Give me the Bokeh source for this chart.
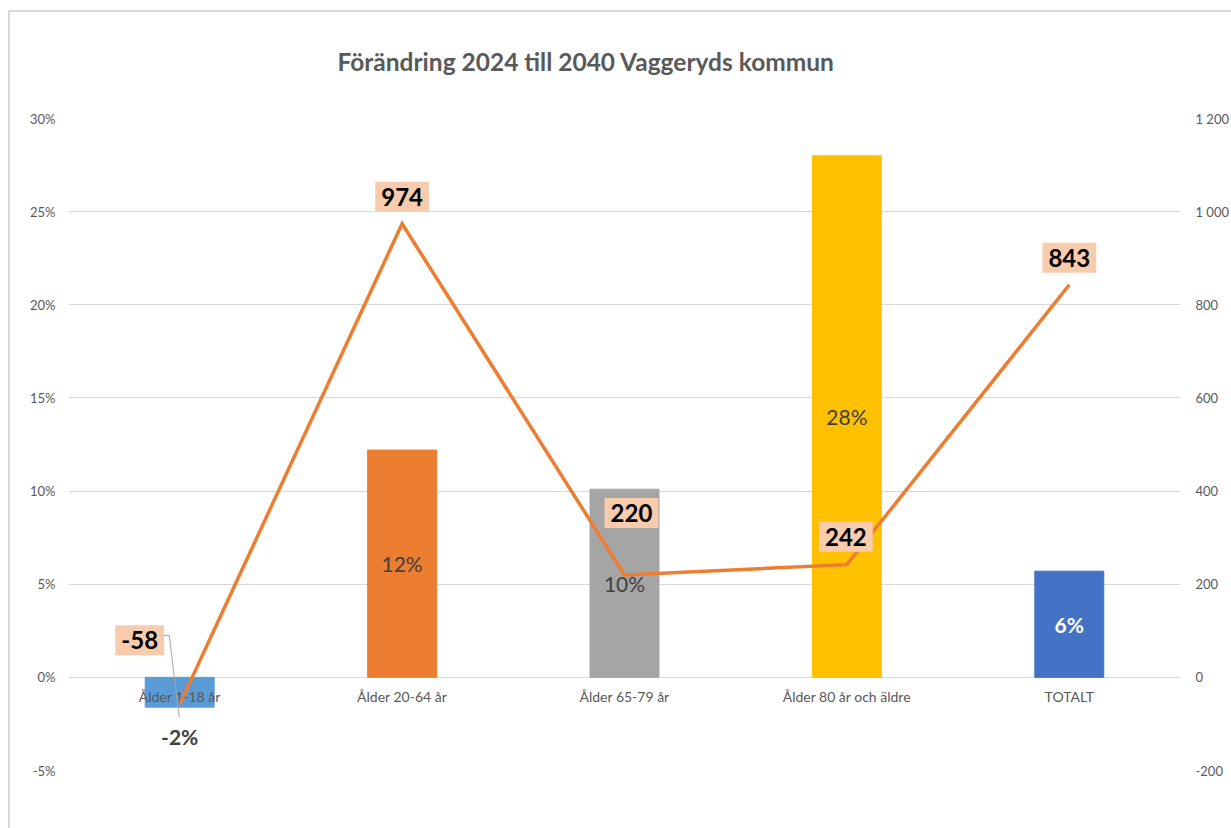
from bokeh.plotting import figure
from bokeh.models import Range1d, FactorRange, LinearAxis, FixedTicker, NumeralTickFormatter, ColumnDataSource
from bokeh.core.properties import value
from bokeh.embed import file_html
from bokeh.resources import INLINE

# ---- data ----
categories = ["Ålder 1-18 år", "Ålder 20-64 år", "Ålder 65-79 år", "Ålder 80 år och äldre", "TOTALT"]
pct_change = [-0.016, 0.122, 0.101, 0.280, 0.057]
pct_labels = ["-2%", "12%", "10%", "28%", "6%"]
abs_change = [-58, 974, 220, 242, 843]
abs_labels = ["-58", "974", "220", "242", "843"]
left_ticks = [-0.05, 0.0, 0.05, 0.10, 0.15, 0.20, 0.25, 0.30]
right_ticks = [-200, 0, 200, 400, 600, 800, 1000, 1200]
right_tick_labels = ["-200", "0", "200", "400", "600", "800", "1 000", "1 200"]

# ---- styles ----
bar_colors = ["#5B9BD5", "#ED7D31", "#A5A5A5", "#FFC000", "#4472C4"]
bar_label_colors = ["#404040", "#404040", "#404040", "#404040", "#FFFFFF"]
bar_label_weights = ["bold", "normal", "normal", "normal", "bold"]
bar_label_dy = [29, 0, 0, 0, 0]
line_label_dx = [-40, 0, 7, -1, 0]
line_label_dy = [-64, -27, -62, -28, -27]
FONT = "Lato"
GREY = "#595959"

p = figure(width=1231, height=828, output_backend="svg", toolbar_location=None,
           x_range=FactorRange(*categories, range_padding=0),
           y_range=Range1d(-0.05, 0.30),
           min_border_left=68, min_border_right=48, min_border_top=118, min_border_bottom=58)
p.outline_line_color = None
p.border_fill_color = None
p.background_fill_color = None
p.styles = {
    "background": "linear-gradient(#D9D9D9,#D9D9D9) 8px 10px / 2px 100% no-repeat, "
                  "linear-gradient(#D9D9D9,#D9D9D9) 8px 10px / 100% 2px no-repeat, #FFFFFF"
}
p.extra_y_ranges = {"right": Range1d(-200, 1200)}

p.title.text = "Förändring 2024 till 2040 Vaggeryds kommun"
p.title.text_font = FONT
p.title.text_font_size = "24.5px"
p.title.text_font_style = "bold"
p.title.text_color = GREY
p.title.align = "left"
p.title.offset = 269
p.title.vertical_align = "top"
p.title.standoff = 82

p.xaxis.visible = False
p.xgrid.visible = False

yax = p.yaxis[0]
yax.ticker = FixedTicker(ticks=left_ticks)
yax.formatter = NumeralTickFormatter(format="0%")
yax.axis_line_color = None
yax.major_tick_line_color = None
yax.minor_tick_line_color = None
yax.major_tick_out = 0
yax.minor_tick_out = 0
yax.major_label_standoff = 13
yax.major_label_text_font = FONT
yax.major_label_text_font_size = "13px"
yax.major_label_text_color = GREY
p.ygrid.ticker = FixedTicker(ticks=left_ticks)
p.ygrid.grid_line_color = "#D9D9D9"

rax = LinearAxis(y_range_name="right", ticker=FixedTicker(ticks=right_ticks),
                 major_label_overrides={t: l for t, l in zip(right_ticks, right_tick_labels)})
rax.axis_line_color = None
rax.major_tick_line_color = None
rax.minor_tick_line_color = None
rax.major_tick_out = 0
rax.minor_tick_out = 0
rax.major_label_standoff = 15
rax.major_label_text_font = FONT
rax.major_label_text_font_size = "13px"
rax.major_label_text_color = GREY
p.add_layout(rax, "right")

src = ColumnDataSource(dict(
    cat=categories, pct=pct_change, pct_lab=pct_labels, half=[v / 2 if v > 0 else v for v in pct_change],
    col=bar_colors, lab_col=bar_label_colors, lab_w=bar_label_weights, lab_dy=bar_label_dy,
    zero=[0] * len(categories),
    absv=abs_change, abs_lab=abs_labels, ldx=line_label_dx, ldy=line_label_dy,
))

p.vbar(x="cat", top="pct", width=0.31, fill_color="col", line_color="col", source=src)

# category labels sit just below the zero line
p.text(x="cat", y="zero", text="cat", source=src, y_offset=19,
       text_align="center", text_baseline="middle", text_font=value(FONT),
       text_font_size="14px", text_color=GREY)

# bar value labels
p.text(x="cat", y="half", text="pct_lab", source=src, y_offset="lab_dy",
       text_align="center", text_baseline="middle", text_font=value(FONT),
       text_font_size="21px", text_color="lab_col", text_font_style="lab_w")

# leader line for the -58 label (annotation)
p.line(x=[0.42, 0.453, 0.498], y=[0.0225, 0.0225, -0.0215], line_color="#A6A6A6", line_width=1)

# absolute change line on the right axis
p.line(x="cat", y="absv", source=src, y_range_name="right", line_color="#ED7D31",
       line_width=3.5, line_join="miter")

p.text(x="cat", y="absv", text="abs_lab", source=src, y_range_name="right",
       x_offset="ldx", y_offset="ldy", text_align="center", text_baseline="middle",
       text_font=value(FONT), text_font_size="24px", text_font_style="bold",
       text_color="#000000", background_fill_color="#F8CBAD", padding=6)

open("out.html", "w").write(file_html(p, INLINE))
